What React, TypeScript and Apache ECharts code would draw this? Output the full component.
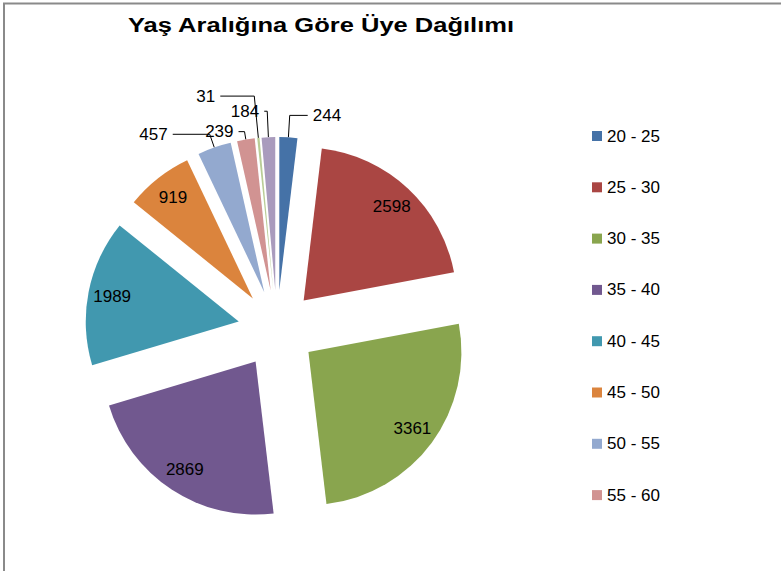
import React, { useEffect, useRef } from "react";
import * as echarts from "echarts";

const titleText = "Yaş Aralığına Göre Üye Dağılımı";
const ageGroups = ["20 - 25", "25 - 30", "30 - 35", "35 - 40", "40 - 45", "45 - 50", "50 - 55", "55 - 60", "60 - 65", "65 +"];
const memberCounts = [244, 2598, 3361, 2869, 1989, 919, 457, 239, 31, 184];
const sliceColors = ["#4572A7", "#AA4643", "#89A54E", "#71588F", "#4198AF", "#DB843D", "#93A9CF", "#D19392", "#B9CD96", "#A99BBD"];
const legendShown = ["20 - 25", "25 - 30", "30 - 35", "35 - 40", "40 - 45", "45 - 50", "50 - 55", "55 - 60"];
const insideThreshold = 800;
// leader-line lengths [radial, horizontal] for the small slices' outside labels
const leaderLengths: Record<string, [number, number]> = {
  "20 - 25": [22, 18],
  "50 - 55": [14, 37],
  "55 - 60": [8, 6],
  "60 - 65": [42, 34],
  "65 +": [26, 3],
};

export default function App() {
  const ref = useRef<HTMLDivElement>(null);
  useEffect(() => {
    if (!ref.current) return;
    const chart = echarts.init(ref.current, undefined, { renderer: "svg" });
    const font = "'Liberation Sans', Arial, sans-serif";
    const mainData = ageGroups.map((name, i) => {
      const big = memberCounts[i] >= insideThreshold;
      const ll = leaderLengths[name] || [14, 10];
      return {
        name,
        value: memberCounts[i],
        selected: true,
        itemStyle: { color: sliceColors[i] },
        label: { show: !big },
        labelLine: { show: !big, length: ll[0], length2: ll[1] },
      };
    });
    const overlayData = ageGroups.map((name, i) => {
      const big = memberCounts[i] >= insideThreshold;
      return {
        name,
        value: memberCounts[i],
        selected: true,
        itemStyle: { color: "rgba(0,0,0,0)" },
        label: { show: big },
      };
    });
    chart.setOption({
      animation: false,
      backgroundColor: "#ffffff",
      graphic: [
        {
          type: "rect",
          shape: { x: 4, y: 3.5, width: 820, height: 620 },
          style: { fill: "none", stroke: "#8a8a8a", lineWidth: 2 },
          silent: true,
        },
        {
          type: "text",
          x: 128,
          y: 14,
          scaleX: 1.215,
          style: {
            text: titleText,
            fontSize: 21,
            fontWeight: "bold",
            fontFamily: font,
            fill: "#000000",
            textVerticalAlign: "top",
          },
        },
      ],
      legend: {
        orient: "vertical",
        left: 592,
        top: 127.5,
        padding: 0,
        itemWidth: 10,
        itemHeight: 10,
        itemGap: 34.3,
        icon: "rect",
        data: legendShown,
        selectedMode: false,
        textStyle: { fontSize: 17, lineHeight: 17, color: "#000000", fontFamily: font },
      },
      series: [
        {
          type: "pie",
          center: [277, 329],
          radius: 153,
          startAngle: 90,
          clockwise: true,
          selectedMode: "multiple",
          selectedOffset: 39,
          avoidLabelOverlap: false,
          emphasis: { disabled: true },
          select: { itemStyle: {} },
          label: {
            position: "outside",
            formatter: "{c}",
            fontSize: 17,
            color: "#000000",
            fontFamily: font,
          },
          labelLine: {
            lineStyle: { color: "#000000", width: 1 },
          },
          data: mainData,
        },
        {
          type: "pie",
          center: [277, 329],
          radius: [0, 252],
          startAngle: 90,
          clockwise: true,
          selectedMode: "multiple",
          selectedOffset: 39,
          silent: true,
          legendHoverLink: false,
          emphasis: { disabled: true },
          select: { itemStyle: { color: "rgba(0,0,0,0)" } },
          label: {
            position: "inside",
            formatter: "{c}",
            fontSize: 17,
            color: "#000000",
            fontFamily: font,
          },
          labelLine: { show: false },
          data: overlayData,
          z: 3,
        },
      ],
    });
    return () => chart.dispose();
  }, []);
  return (
    <div
      ref={ref}
      style={{ position: "fixed", left: 0, top: 0, width: 781, height: 571, background: "#fff" }}
    />
  );
}
